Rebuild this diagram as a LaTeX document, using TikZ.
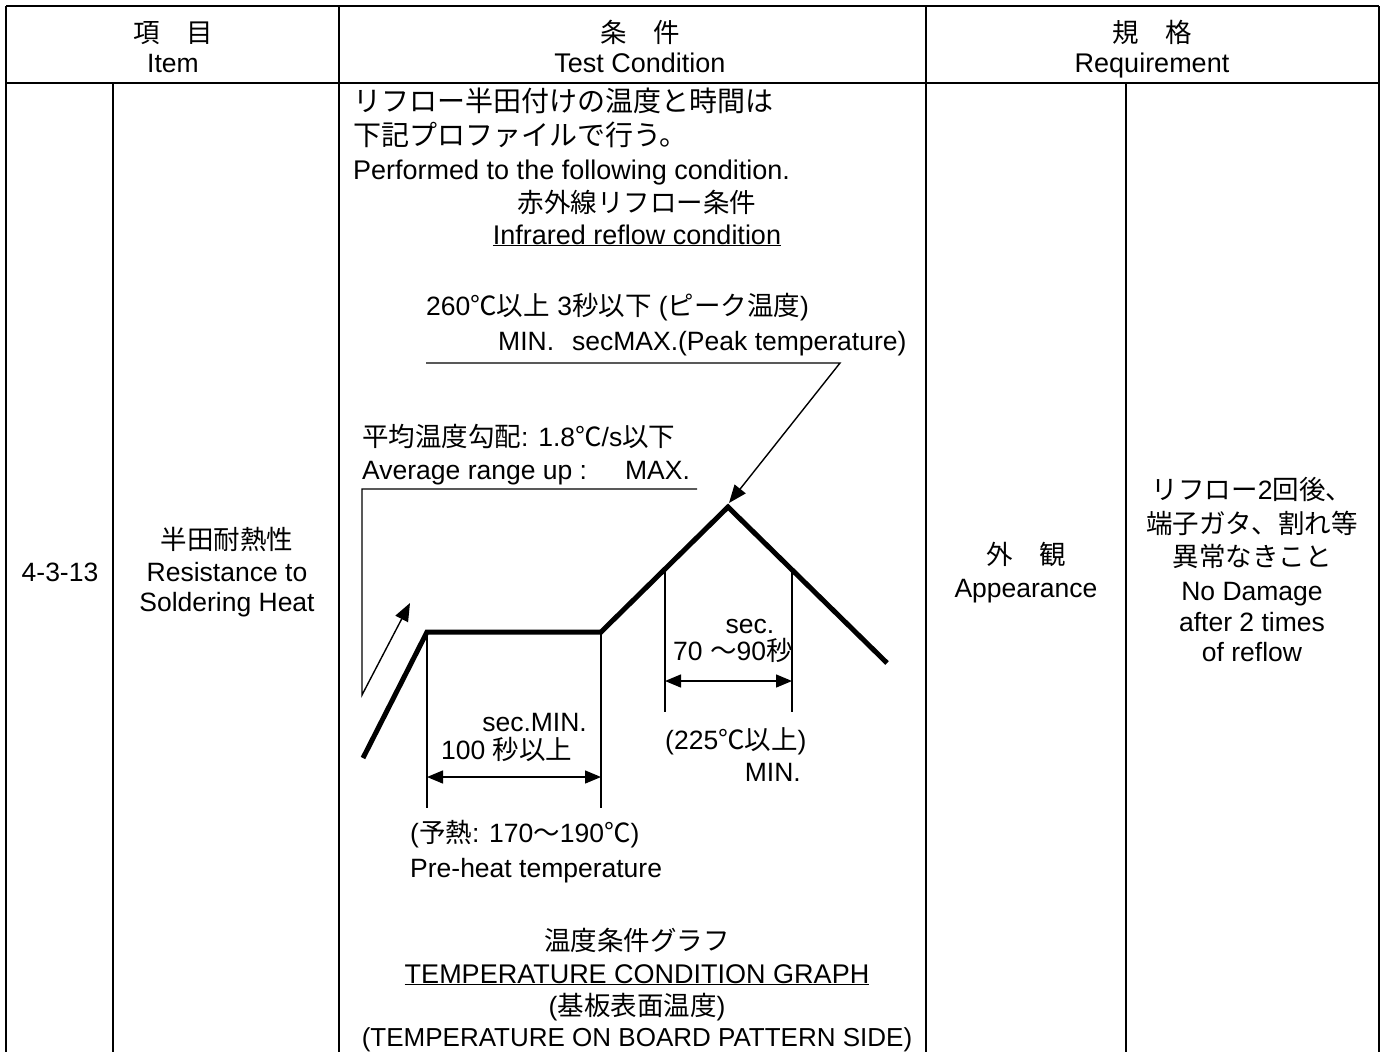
\documentclass[tikz,border=0pt]{standalone}
\usepackage{fontspec}
\setmainfont{Liberation Sans}
\newfontfamily\cjk{Noto Sans CJK JP}
\usetikzlibrary{arrows.meta}
\newcommand\J[1]{{\cjk #1}}
\tikzset{
  every node/.style={inner sep=0pt, font=\fontsize{26.5}{32}\selectfont},
  big/.style={font=\fontsize{27}{32}\selectfont},
  bigj/.style={font=\fontsize{28}{32}\selectfont},
  lbl/.style={anchor=base west},
  ctr/.style={anchor=base},
  rgt/.style={anchor=base east},
  grid/.style={line width=2pt},
  thinline/.style={line width=1.4pt},
  prof/.style={line width=5pt, line join=miter},
  dim/.style={thinline, {Triangle[length=16pt,width=13pt]}-{Triangle[length=16pt,width=13pt]}},
  ptr/.style={thinline, -{Triangle[length=18pt,width=14pt]}}
}
\begin{document}
\begin{tikzpicture}[x=1pt,y=-1pt]
\useasboundingbox (0,0) rectangle (1388,1052);
\fill[white] (0,0) rectangle (1388,1052);
% table
\draw[grid] (6,6) -- (1379,6);
\draw[grid] (6,83) -- (1379,83);
\draw[grid] (6,6) -- (6,1052);
\draw[grid] (339,6) -- (339,1052);
\draw[grid] (926,6) -- (926,1052);
\draw[grid] (1379,6) -- (1379,1052);
\draw[grid] (113,83) -- (113,1052);
\draw[grid] (1126,83) -- (1126,1052);
% header
\node[ctr] (h1a) at (173,42) {\J{項　目}};
\node[ctr] (h1b) at (173,72) {Item};
\node[ctr] (h2a) at (640,42) {\J{条　件}};
\node[ctr,big] (h2b) at (640,72) {Test Condition};
\node[ctr] (h3a) at (1152,42) {\J{規　格}};
\node[ctr,big] (h3b) at (1152,72) {Requirement};
% item column
\node[ctr] (no) at (60,581) {4-3-13};
\node[ctr] (it1) at (227,549) {\J{半田耐熱性}};
\node[ctr] (it2) at (227,581) {Resistance to};
\node[ctr] (it3) at (227,611) {Soldering Heat};
% requirement
\node[ctr] (ap1) at (1026,564) {\J{外　観}};
\node[ctr] (ap2) at (1026,597) {Appearance};
\node[ctr] (rq1) at (1252,499) {\J{リフロー}2\J{回後、}};
\node[ctr] (rq2) at (1252,533) {\J{端子ガタ、割れ等}};
\node[ctr] (rq3) at (1252,566) {\J{異常なきこと}};
\node[ctr] (rq4) at (1252,600) {No Damage};
\node[ctr] (rq5) at (1252,631) {after 2 times};
\node[ctr] (rq6) at (1252,661) {of reflow};
% condition texts
\node[lbl,bigj] (c1) at (353,111) {\J{リフロー半田付けの温度と時間は}};
\node[lbl,bigj] (c2) at (353,145) {\J{下記プロファイルで行う。}};
\node[lbl,big] (c3) at (353,179) {Performed to the following condition.};
\node[ctr] (c4) at (637,212) {\J{赤外線リフロー条件}};
\node[ctr,big] (c5) at (637,244) {\underline{Infrared reflow condition}};
\node[lbl] (pk1) at (426,315) {260\J{℃以上} 3\J{秒以下} (\J{ピーク温度})};
\node[lbl] (pk2) at (498,350) {MIN.\hspace{18pt}secMAX.(Peak temperature)};
\node[lbl] (av1) at (362,446) {\J{平均温度勾配}: 1.8\J{℃}/s\J{以下}};
\node[lbl] (av2) at (362,479) {Average range up :\hspace{38pt}MAX.};
\node[rgt] (pr1) at (587,731) {sec.MIN.};
\node[lbl] (pr2) at (441,759) {100 \J{秒以上}};
\node[ctr] (pp1) at (750,633) {sec.};
\node[lbl] (pp2) at (673,660) {70 \J{～}90\J{秒}};
\node[lbl] (pp3) at (665,749) {(225\J{℃以上})};
\node[rgt] (pp4) at (801,781) {MIN.};
\node[lbl] (ph1) at (410,842) {(\J{予熱}: 170\J{～}190\J{℃})};
\node[lbl] (ph2) at (410,877) {Pre-heat temperature};
\node[ctr] (g1) at (637,950) {\J{温度条件グラフ}};
\node[ctr,big] (g2) at (637,983) {\underline{TEMPERATURE CONDITION GRAPH}};
\node[ctr] (g3) at (637,1015) {(\J{基板表面温度})};
\node[ctr,font=\fontsize{26}{32}\selectfont] (g4) at (637,1046) {(TEMPERATURE ON BOARD PATTERN SIDE)};
% profile
\coordinate (A) at (363,758);
\coordinate (B) at (427,632);
\coordinate (C) at (601,632);
\coordinate (D) at (728,507);
\coordinate (E) at (887,663);
\draw[prof] (A) -- (B) -- (C) -- (D) -- (E);
% preheat dimension
\coordinate (Bb) at (427,808);
\coordinate (Cb) at (601,808);
\draw[thinline] (B) -- (Bb);
\draw[thinline] (C) -- (Cb);
\coordinate (Bd) at (427,777);
\coordinate (Cd) at (601,777);
\draw[dim] (Bd) -- (Cd);
% peak dimension
\coordinate (F) at (665,569);
\coordinate (Fb) at (665,712);
\coordinate (G) at (792,570);
\coordinate (Gb) at (792,712);
\draw[thinline] (F) -- (Fb);
\draw[thinline] (G) -- (Gb);
\coordinate (Fd) at (665,681);
\coordinate (Gd) at (792,681);
\draw[dim] (Fd) -- (Gd);
% peak label leader
\coordinate (L1) at (426,363);
\coordinate (L2) at (840,363);
\coordinate (Dt) at (729,503);
\draw[ptr] (L1) -- (L2) -- (Dt);
% average slope leader
\coordinate (M1) at (697,489);
\coordinate (M2) at (362,489);
\coordinate (M3) at (362,695);
\coordinate (M4) at (410,603);
\draw[ptr] (M1) -- (M2) -- (M3) -- (M4);
\end{tikzpicture}
\end{document}
